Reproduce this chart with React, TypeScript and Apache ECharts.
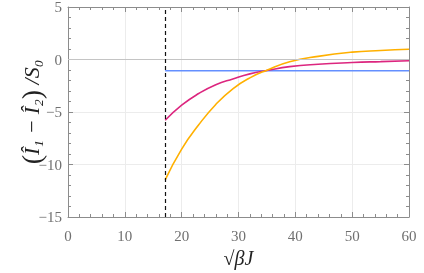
import React, { useEffect, useRef } from "react";
import * as echarts from "echarts";

const threshold = 17.1;
const blueLevel = -1.07;
const blueX = [17.1, 60];

const magentaX = [17.1, 20, 23, 26, 29, 32, 35, 39, 44, 50, 55, 60];
const magentaY = [-5.79, -4.35, -3.24, -2.4, -1.85, -1.37, -1.05, -0.68, -0.45, -0.29, -0.2, -0.12];

const orangeX = [17.1, 20, 23, 26, 29, 32, 35, 39, 44, 50, 55, 60];
const orangeY = [-11.46, -8.53, -6.22, -4.28, -2.79, -1.75, -1.02, -0.22, 0.3, 0.7, 0.86, 0.98];

const xTicks = [0, 10, 20, 30, 40, 50, 60];
const yTicks = [-15, -10, -5, 0, 5];

const yTitle = "{p|(}{t|\u00CE\u2081 \u2212 \u00CE\u2082}{p|)}{t| /S\u2080}";

const FONT = "Liberation Serif";
const AXIS_COLOR = "#8c8c8c";
const LABEL_COLOR = "#707070";

export default function App() {
  const ref = useRef<HTMLDivElement>(null);
  useEffect(() => {
    document.body.style.margin = "0";
    const chart = echarts.init(ref.current!, null, { renderer: "svg" });
    const pair = (xs: number[], ys: number[]) => xs.map((x, i) => [x, ys[i]]);
    const fmt = (v: number) => String(v).replace("-", "\u2212");
    const line = { show: true, onZero: false, lineStyle: { color: AXIS_COLOR } };
    const tick = { show: true, inside: true, length: 5, lineStyle: { color: AXIS_COLOR } };
    const minor = { show: true, splitNumber: 5, length: 3, lineStyle: { color: AXIS_COLOR } };
    chart.setOption({
      animation: false,
      grid: { left: 68, right: 15, top: 7, bottom: 56, outerBoundsMode: "none" },
      graphic: [
        {
          type: "text",
          x: 31,
          y: 112,
          rotation: Math.PI / 2,
          silent: true,
          style: {
            text: yTitle,
            align: "center",
            verticalAlign: "middle",
            fill: "#222",
            font: "italic 22px 'Liberation Serif'",
            rich: {
              t: { fontFamily: FONT, fontStyle: "italic", fontSize: 22, lineHeight: 28, verticalAlign: "middle", fill: "#222" },
              p: { fontFamily: FONT, fontSize: 28, lineHeight: 28, verticalAlign: "middle", fill: "#222" },
            },
          },
        },
      ],
      xAxis: [
        {
          type: "value",
          min: xTicks[0],
          max: xTicks[xTicks.length - 1],
          interval: 10,
          name: "\u221A\u03B2J",
          nameLocation: "middle",
          nameGap: 31,
          nameTextStyle: { fontFamily: FONT, fontStyle: "italic", fontSize: 20, color: "#222" },
          axisLine: line,
          axisTick: tick,
          minorTick: minor,
          axisLabel: { fontFamily: FONT, fontSize: 15, color: LABEL_COLOR, margin: 11, formatter: fmt },
          splitLine: { show: true, lineStyle: { color: "#ececec", width: 1 } },
        },
        {
          type: "value",
          position: "top",
          min: xTicks[0],
          max: xTicks[xTicks.length - 1],
          interval: 10,
          axisLine: line,
          axisTick: tick,
          minorTick: minor,
          axisLabel: { show: false },
          splitLine: { show: false },
        },
      ],
      yAxis: [
        {
          type: "value",
          min: yTicks[0],
          max: yTicks[yTicks.length - 1],
          interval: 5,
          axisLine: line,
          axisTick: tick,
          minorTick: minor,
          axisLabel: { fontFamily: FONT, fontSize: 15, color: LABEL_COLOR, margin: 6, formatter: fmt },
          splitLine: { show: true, lineStyle: { color: "#ececec", width: 1 } },
        },
        {
          type: "value",
          position: "right",
          min: yTicks[0],
          max: yTicks[yTicks.length - 1],
          interval: 5,
          axisLine: line,
          axisTick: tick,
          minorTick: minor,
          axisLabel: { show: false },
          splitLine: { show: false },
        },
      ],
      series: [
        {
          type: "line",
          data: [],
          markLine: {
            silent: true,
            symbol: "none",
            label: { show: false },
            data: [
              { yAxis: 0, lineStyle: { color: "#c4c4c4", type: "solid", width: 1.2 } },
            ],
          },
        },
        {
          type: "line",
          data: pair(blueX, blueX.map(() => blueLevel)),
          showSymbol: false,
          lineStyle: { color: "#648fff", width: 1.6 },
          itemStyle: { color: "#648fff" },
        },
        {
          type: "line",
          data: pair(magentaX, magentaY),
          smooth: 0.5,
          showSymbol: false,
          lineStyle: { color: "#dc267f", width: 1.6 },
          itemStyle: { color: "#dc267f" },
        },
        {
          type: "line",
          data: pair(orangeX, orangeY),
          smooth: 0.5,
          showSymbol: false,
          lineStyle: { color: "#ffb000", width: 1.6 },
          itemStyle: { color: "#ffb000" },
        },
        {
          type: "line",
          data: [],
          markLine: {
            silent: true,
            symbol: "none",
            label: { show: false },
            data: [
              { xAxis: threshold, lineStyle: { color: "#111", type: [4, 3], width: 1.2 } },
            ],
          },
        },
      ],
    });
    return () => chart.dispose();
  }, []);
  return <div ref={ref} style={{ position: "fixed", left: 0, top: 0, width: 424, height: 273 }} />;
}
